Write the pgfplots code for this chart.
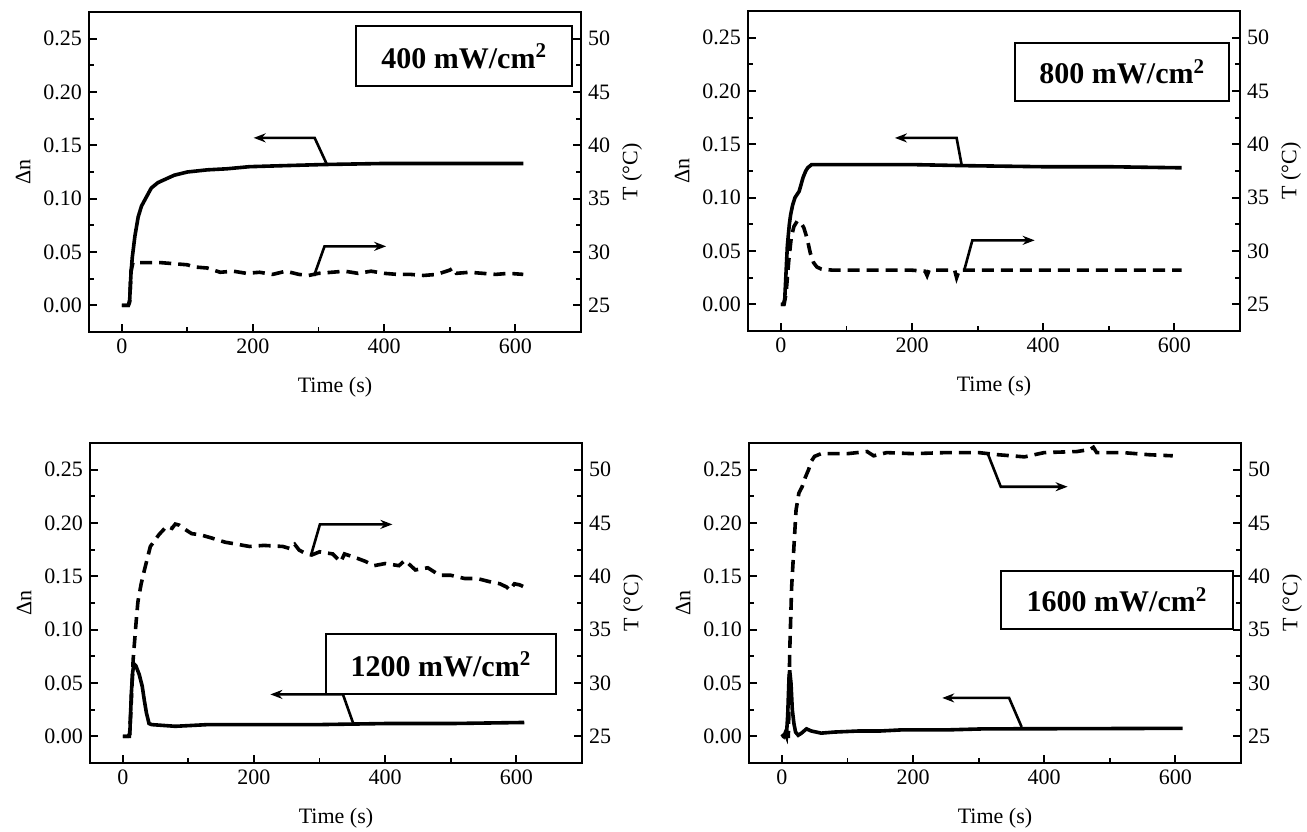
\documentclass[border=0pt]{standalone}
\usepackage{fontspec}
\setmainfont{Liberation Serif}
\usepackage{pgfplots}
\pgfplotsset{compat=1.18}
\usetikzlibrary{arrows.meta}
\tikzset{
 ann/.style={black, line width=1.3pt, -{Stealth[length=6pt,width=4.5pt]}},
 lbox/.style={draw=black, fill=white, line width=1pt},
 lbl/.style={font=\bfseries\fontsize{15}{17}\selectfont, anchor=center},
}
\pgfplotsset{
 base/.style={scale only axis, width=246pt, height=160pt, xmin=-50, xmax=700, anchor=south west,
   /pgf/number format/assume math mode=true, tick align=inside, major tick length=4pt, minor tick length=2.5pt,
   tick style={line width=0.9pt, black}, axis line style={line width=1.2pt},
   tick label style={font=\fontsize{11}{13}\selectfont},
   label style={font=\fontsize{11}{13}\selectfont}},
 leftax/.style={base, ymin=-0.025, ymax=0.275, ytick={0,0.05,0.1,0.15,0.2,0.25}, xtick={0,200,400,600},
   minor x tick num=1, minor y tick num=1, tick pos=left,
   yticklabel style={/pgf/number format/fixed, /pgf/number format/fixed zerofill, /pgf/number format/precision=2},
   xlabel={Time (s)}, ylabel={Δn},
   xlabel style={at={(axis description cs:0.5,-0.172)}, anchor=center},
   ylabel style={at={(axis description cs:-0.134,0.5)}, anchor=center}},
 rightax/.style={base, ymin=22.5, ymax=52.5, ytick={25,30,35,40,45,50}, minor y tick num=1,
   axis y line*=right, axis x line=none, ytick align=inside,
   ylabel={T (°C)}, ylabel style={at={(axis description cs:1.104,0.5)}, anchor=center}},
 dn/.style={black, line width=1.8pt, no marks},
 tt/.style={black, line width=1.8pt, no marks, dash pattern=on 6pt off 3.5pt},
}
\begin{document}
\begin{tikzpicture}
\useasboundingbox (0,0) rectangle (653.5pt,415.5pt);
% ---------------- Panel 1: 400 ----------------
\begin{axis}[leftax, at={(44.5pt,249.5pt)}]
\addplot[dn] coordinates {(0,0) (5,0) (10,0) (12,0.005) (14,0.03) (16,0.045) (20,0.065) (25,0.083) (30,0.093) (37,0.101) (45,0.11) (55,0.115) (62,0.117) (80,0.122) (100,0.125) (130,0.127) (160,0.128) (195,0.130) (250,0.131) (308,0.132) (400,0.133) (500,0.133) (612,0.133)};
\draw[ann] (axis cs:312,0.133) -- (axis cs:294,0.157) -- (axis cs:201,0.157);
\draw[ann] (axis cs:293,0.0276) -- (axis cs:309,0.0553) -- (axis cs:403,0.0553);
\draw[lbox] (axis cs:357.7,0.2057) rectangle (axis cs:687,0.2616);
\node[lbl] at (axis cs:522,0.2337) {400 mW/cm\textsuperscript{2}};
\end{axis}
\begin{axis}[rightax, at={(44.5pt,249.5pt)}]
\addplot[tt] coordinates {(0,25) (10,25) (12,25.3) (14,28.2) (17,29.0) (25,29.0) (40,29.0) (60,29.0) (80,28.9) (100,28.8) (110,28.6) (130,28.5) (150,28.1) (170,28.2) (190,28.0) (210,28.1) (230,27.9) (250,28.2) (270,27.9) (285,27.8) (300,28.0) (320,28.1) (340,28.2) (360,28.0) (380,28.2) (400,28.0) (420,27.9) (440,27.9) (460,27.8) (480,27.9) (500,28.3) (505,28.5) (510,28.0) (530,28.1) (550,28.0) (570,27.9) (590,28.0) (612,27.9)};
\end{axis}
% ---------------- Panel 2: 800 ----------------
\begin{axis}[leftax, at={(374pt,250pt)}]
\addplot[dn] coordinates {(0,0) (4,0) (6,0.005) (8,0.03) (10,0.055) (13,0.075) (15,0.084) (18,0.093) (21.6,0.1) (28,0.106) (34,0.119) (38,0.125) (41,0.128) (47,0.131) (100,0.131) (200,0.131) (282,0.130) (400,0.129) (500,0.129) (611,0.128)};
\draw[ann] (axis cs:276,0.1297) -- (axis cs:268,0.156) -- (axis cs:174,0.156);
\draw[ann] (axis cs:280,0.0328) -- (axis cs:292,0.06) -- (axis cs:387,0.06);
\draw[lbox] (axis cs:357,0.191) rectangle (axis cs:684,0.2453);
\node[lbl] at (axis cs:520.5,0.2182) {800 mW/cm\textsuperscript{2}};
\end{axis}
\begin{axis}[rightax, at={(374pt,250pt)}]
\addplot[tt] coordinates {(0,25) (5,25) (8,26) (12,29) (16,31.3) (20,32.3) (25,32.8) (30,32.7) (35,32.2) (40,31.2) (45,29.8) (50,28.9) (55,28.5) (62,28.3) (80,28.2) (150,28.2) (200,28.2) (220,28.1) (223,27.7) (226,28.2) (265,28.2) (268,27.5) (272,28.2) (300,28.2) (400,28.2) (500,28.2) (611,28.2)};
\end{axis}
% ---------------- Panel 3: 1200 ----------------
\begin{axis}[leftax, at={(45pt,34pt)}]
\addplot[dn] coordinates {(0,0) (8,0) (10.7,0.002) (13,0.04) (15,0.06) (17,0.068) (20,0.066) (25,0.058) (29.6,0.047) (33,0.033) (36,0.022) (40,0.012) (44,0.011) (80,0.0094) (130,0.011) (200,0.011) (300,0.011) (400,0.012) (500,0.012) (612,0.013)};
\draw[ann] (axis cs:351,0.0126) -- (axis cs:335.6,0.0393) -- (axis cs:225,0.0393);
\draw[lbox] (axis cs:310,0.0393) rectangle (axis cs:660,0.0959);
\node[lbl] at (axis cs:485,0.0676) {1200 mW/cm\textsuperscript{2}};
\end{axis}
\begin{axis}[rightax, at={(45pt,34pt)}]
\addplot[tt] coordinates {(0,25) (10,25) (12,27) (15.8,32.2) (20,35.5) (23,37.6) (28,39.3) (33,40.6) (42,42.8) (55,43.9) (67,44.7) (75,44.5) (80,44.9) (86,44.8) (95,44.4) (105,44.0) (118,43.9) (135,43.6) (156,43.2) (175,43.0) (193,42.8) (215,42.9) (244,42.8) (255,42.6) (262,43.0) (269,42.45) (280,42.1) (288,42.0) (300,42.3) (320,42.1) (328,41.6) (332,41.35) (338,42.1) (357,41.7) (370,41.4) (383,41.0) (400,41.2) (421,41.0) (430,41.5) (446,40.6) (465,40.8) (483,40.1) (500,40.1) (521,39.8) (540,39.8) (559,39.5) (575,39.3) (585,39.0) (590,38.7) (597,39.3) (605,39.2) (612,39.0)};
\draw[ann] (axis cs:287,42.0) -- (axis cs:300.5,44.87) -- (axis cs:411,44.87);
\end{axis}
% ---------------- Panel 4: 1600 ----------------
\begin{axis}[leftax, at={(374.5pt,34pt)}]
\addplot[dn] coordinates {(0,0.002) (3,0.000) (5,0.003) (7,0.0) (9,0.02) (11,0.055) (12,0.062) (14,0.05) (16,0.025) (18.5,0.012) (21,0.004) (25,0.001) (30,0.003) (37.6,0.007) (45,0.005) (60,0.003) (80,0.004) (117,0.005) (150,0.005) (181,0.006) (250,0.006) (308,0.007) (450,0.0072) (611,0.0075)};
\draw[ann] (axis cs:365.6,0.0088) -- (axis cs:346.5,0.036) -- (axis cs:244.6,0.036);
\draw[lbox] (axis cs:333.8,0.101) rectangle (axis cs:688.5,0.155);
\node[lbl] at (axis cs:511,0.128) {1600 mW/cm\textsuperscript{2}};
\end{axis}
\begin{axis}[rightax, at={(374.5pt,34pt)}]
\addplot[tt] coordinates {(0,25) (10,25) (11,28) (12,32.8) (15,39) (18.5,42.8) (21.7,46.2) (26,47.8) (31,48.4) (36,49.3) (40.8,50) (45,50.8) (50,51.25) (60,51.5) (100,51.5) (130,51.7) (140,51.3) (160,51.6) (200,51.5) (250,51.6) (300,51.6) (330,51.4) (370,51.2) (400,51.6) (450,51.7) (470,51.9) (475,52.1) (480,51.6) (520,51.6) (560,51.4) (596,51.3)};
\draw[ann] (axis cs:314.6,51.4) -- (axis cs:333.8,48.4) -- (axis cs:435.7,48.4);
\end{axis}
\end{tikzpicture}
\end{document}
